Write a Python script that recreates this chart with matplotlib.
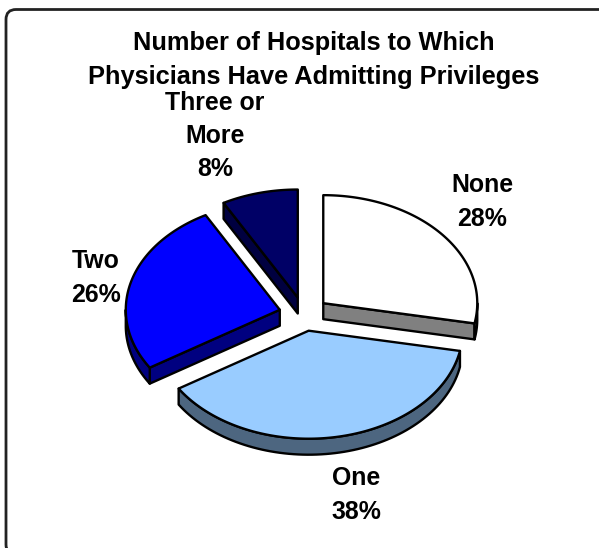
import numpy as np
import matplotlib
matplotlib.use("Agg")
import matplotlib.pyplot as plt
from matplotlib.patches import FancyBboxPatch, Polygon

plt.rcParams['font.family'] = ['Liberation Sans', 'DejaVu Sans']

title = "Number of Hospitals to Which\nPhysicians Have Admitting Privileges"
categories = ["None", "One", "Two", "Three or\nMore"]
values = [28, 38, 26, 8]
top_colors = ["#FFFFFF", "#99CCFF", "#0000FF", "#000066"]
side_colors = ["#808080", "#4D6680", "#000080", "#000040"]
label_pos = [(482, 202), (356, 495), (96, 278), (215, 136)]

# pie geometry in picture pixels
cx, cy = 304, 314
rx, ry = 154, 108
ex, ey = 25, 17
depth = 16
lw = 1.7


def pt(x0, y0, ang, r=1.0):
    a = np.radians(ang)
    return x0 + r * rx * np.sin(a), y0 - r * ry * np.cos(a)


def draw_slice(ax, start, end, top, side):
    mid = (start + end) / 2
    m = np.radians(mid)
    x0 = cx + ex * np.sin(m)
    y0 = cy - ey * np.cos(m)

    def face(pts):
        return Polygon(pts, closed=True, fc=side, ec="black", lw=lw, joinstyle="round")

    # radial side faces
    for ang, show in ((start, 180 < start < 360), (end, 0 < end < 180)):
        if show:
            x1, y1 = pt(x0, y0, ang)
            ax.add_patch(face([(x0, y0), (x1, y1), (x1, y1 + depth), (x0, y0 + depth)]))

    # rim, only the part that faces us
    a0, a1 = max(start, 90), min(end, 270)
    if a0 < a1:
        t = np.linspace(a0, a1, 80)
        xs, ys = pt(x0, y0, t)
        rim = list(zip(xs, ys)) + list(zip(xs[::-1], ys[::-1] + depth))
        ax.add_patch(face(rim))

    t = np.linspace(start, end, 120)
    xs, ys = pt(x0, y0, t)
    ax.add_patch(Polygon([(x0, y0)] + list(zip(xs, ys)), closed=True, fc=top,
                         ec="black", lw=lw, joinstyle="round"))


fig = plt.figure(figsize=(5.99, 5.48), dpi=100)
ax = fig.add_axes([0, 0, 1, 1])
ax.set_xlim(0, 599)
ax.set_ylim(548, 0)
ax.axis("off")

# frame runs off the right and bottom of the picture
ax.add_patch(FancyBboxPatch((6, 9.5), 700, 545, boxstyle="round,pad=0,rounding_size=10",
                            fc="white", ec="#222222", lw=2.0))

ax.text(314, 60, title, ha="center", va="center", fontsize=18.3, fontweight="bold",
        linespacing=1.5)

angles = np.concatenate([[0], np.cumsum(values)]) * 3.6
# back slices first
for i in [3, 0, 2, 1]:
    draw_slice(ax, angles[i], angles[i + 1], top_colors[i], side_colors[i])

for name, val, (x, y) in zip(categories, values, label_pos):
    ax.text(x, y, f"{name}\n{val}%", ha="center", va="center", fontsize=17.9,
            fontweight="bold", linespacing=1.5)

fig.savefig("out.png", dpi=100)
